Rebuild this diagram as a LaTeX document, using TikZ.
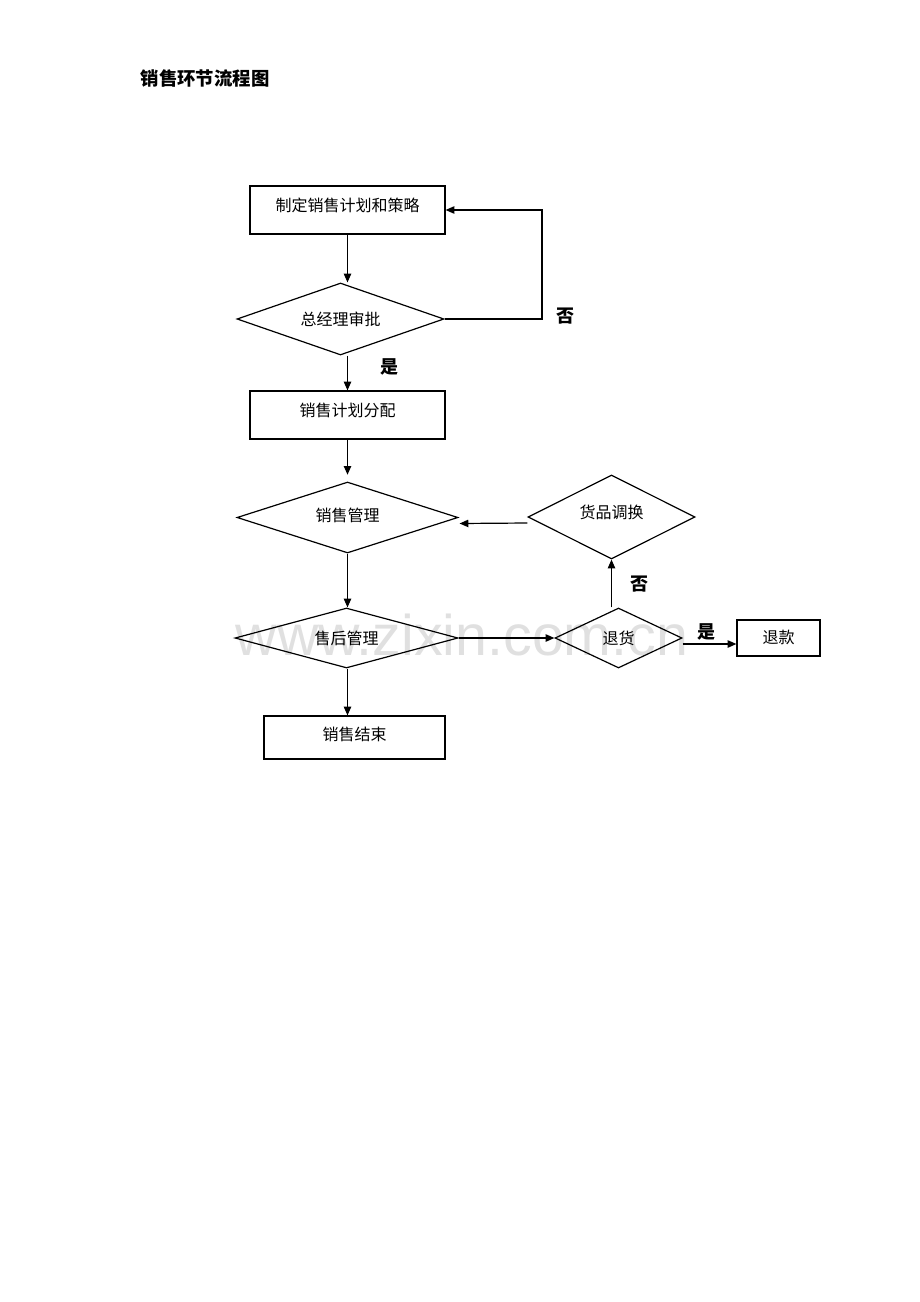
\documentclass[tikz,border=0pt]{standalone}
\usepackage{fontspec}
\usepackage{xcolor}
\usepackage{tikz}
\usetikzlibrary{shapes.geometric,arrows.meta}
\newfontfamily\cjk{Noto Sans CJK SC}
\setmainfont{Liberation Sans}

\tikzset{
  stepbox/.style={draw,line width=0.9pt,inner sep=0pt,font=\cjk\fontsize{12}{14}\selectfont,
    text height=10pt,text depth=8pt},
  choice/.style={draw,diamond,aspect=3,inner sep=0pt,line width=0.9pt,
    font=\cjk\fontsize{12}{14}\selectfont},
  flow/.style={line width=0.9pt,-{Triangle[length=6.5pt,width=5.5pt]}},
  yesno/.style={font=\cjk\bfseries\fontsize{13.5}{15}\selectfont}
}

\begin{document}
\begin{tikzpicture}[x=0.75pt,y=-0.75pt]
\useasboundingbox (0,0) rectangle (920,1302);

% watermark
\node[text=black!12,font=\fontsize{43}{50}\selectfont] (mark) at (462,635) {www.zixin.com.cn};

\node[anchor=west,font=\cjk\bfseries\fontsize{13.8}{16}\selectfont] (title) at (136,78) {销售环节流程图};

\node[stepbox,minimum width=195*0.75pt,minimum height=48*0.75pt] (plan) at (347.5,210) {制定销售计划和策略};
\node[choice,minimum width=207*0.75pt,minimum height=72*0.75pt] (approve) at (340.5,319) {总经理审批};
\node[stepbox,minimum width=195*0.75pt,minimum height=48*0.75pt] (dist) at (347.5,415) {销售计划分配};
\node[choice,minimum width=221*0.75pt,minimum height=71*0.75pt,text depth=4pt] (manage) at (347.5,517.5) {销售管理};
\node[choice,minimum width=223*0.75pt,minimum height=60*0.75pt] (after) at (346.5,638) {售后管理};
\node[choice,minimum width=127*0.75pt,minimum height=60*0.75pt] (ret) at (618.5,638) {退货};
\node[stepbox,minimum width=83*0.75pt,minimum height=36*0.75pt,text depth=2pt,text height=10pt] (refund) at (778.5,638) {退款};
\node[choice,minimum width=167*0.75pt,minimum height=84*0.75pt,text depth=8pt] (swap) at (611.5,517) {货品调换};
\node[stepbox,minimum width=181*0.75pt,minimum height=43*0.75pt,text depth=6pt] (finish) at (354.5,737.5) {销售结束};

\coordinate (loop) at (542,319);

\draw[flow] (plan.south) -- (plan.south |- approve.north);
\draw[flow] (approve.east) -- (loop) |- (plan.east);
\draw[flow] (approve.south -| dist.north) -- (dist.north);
\draw[flow,shorten >=5pt] (dist.south) -- (dist.south |- manage.north);
\draw[flow] (manage.south) -- (after.north -| manage.south);
\draw[flow] (after.east) -- (ret.west);
\draw[flow] ([yshift=-4.5pt]ret.east) -- ([yshift=-4.5pt]refund.west);
\draw[flow] (ret.north -| swap.south) -- (swap.south);
\draw[flow] ([yshift=-4.5pt]swap.west) -- ([yshift=-4.5pt,xshift=0.75pt]manage.east);
\draw[flow] (after.south -| manage.south) -- (manage.south |- finish.north);

\node[yesno] (no1) at (565,316) {否};
\node[yesno] (yes1) at (389,367) {是};
\node[yesno] (no2) at (639,584) {否};
\node[yesno] (yes2) at (706,632) {是};

\end{tikzpicture}
\end{document}
